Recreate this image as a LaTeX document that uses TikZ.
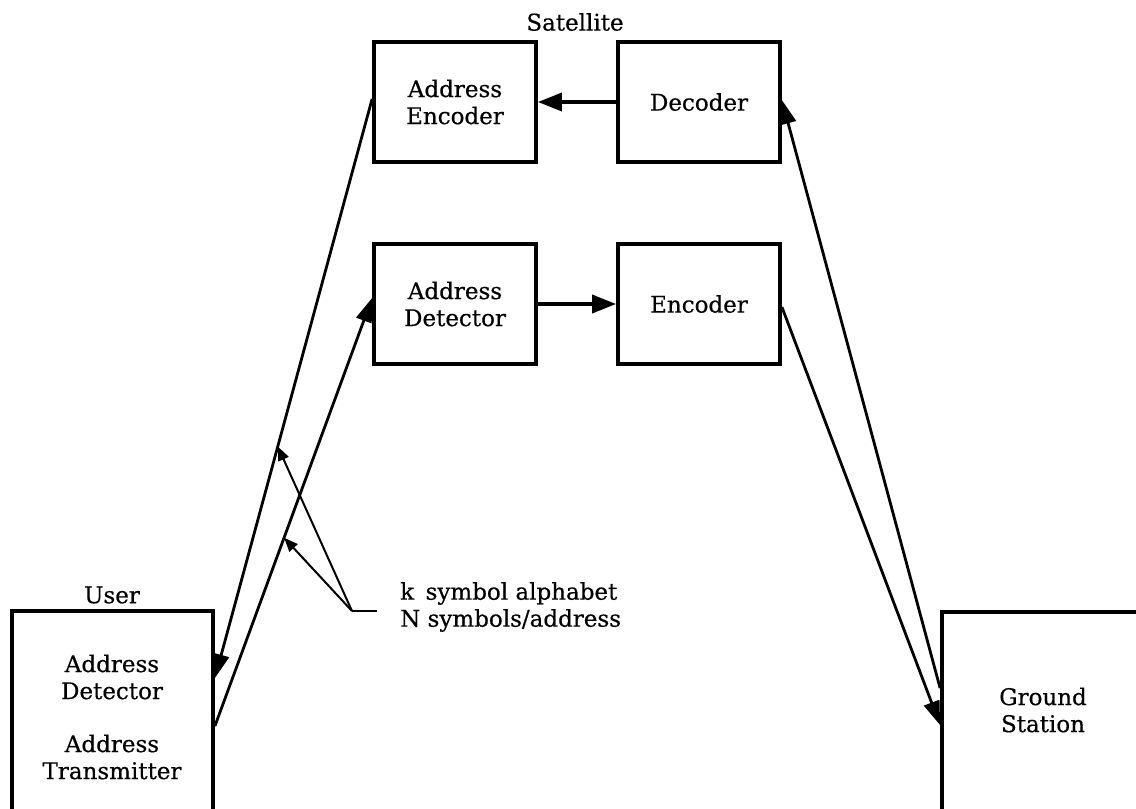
\documentclass[tikz,border=0pt]{standalone}
\usepackage{fontspec}
\setmainfont{DejaVu Serif}[FakeBold=0.5]
\usetikzlibrary{arrows.meta}

\begin{document}
\begin{tikzpicture}[x=1pt,y=-1pt,
  every node/.style={font=\fontsize{23}{27}\selectfont},
  block/.style={draw,line width=3.8pt,rectangle,inner sep=0pt,
    minimum width=162pt,minimum height=120pt,align=center},
  frame/.style={draw,line width=3.8pt,rectangle,inner sep=0pt},
  label/.style={align=center,inner sep=0pt},
  link/.style={line width=2.8pt,-{Triangle[length=24pt,width=16pt]}},
  hlink/.style={line width=3.6pt,-{Triangle[length=24pt,width=18pt]}},
  note/.style={line width=2pt},
  notearrow/.style={line width=2pt,-{Triangle[length=14pt,width=11pt]}}]

\useasboundingbox (0,0) rectangle (1136,809);
\clip (0,0) rectangle (1136,809);

% satellite blocks
\node[label] (sat) at (575,22) {Satellite};
\node[block] (ae)  at (455,102) {Address\\Encoder};
\node[block] (dec) at (699,102) {Decoder};
\node[block] (ad)  at (455,304) {Address\\Detector};
\node[block] (enc) at (699,304) {Encoder};

% user terminal (runs off the lower edge)
\node[label] (usr) at (112,595) {User};
\node[frame,minimum width=201pt,minimum height=289pt] (user) at (112.5,755.5) {};
\node[label] (udet) at (112,677) {Address\\Detector};
\node[label] (utx)  at (112,757) {Address\\Transmitter};

% ground station (runs off the right and lower edges)
\node[frame,minimum width=308pt,minimum height=288pt] (gs) at (1096,756) {};
\node[label] (gst) at (1043,710) {Ground\\Station};

% on-board links
\draw[hlink] (dec.west) -- (ae.east);
\draw[hlink] (ad.east) -- (enc.west);

% user links
\draw[link] ([yshift=3pt]ae.west) -- coordinate[pos=0.6] (m1) ([yshift=-69pt]user.north east);
\draw[link] ([yshift=-117pt]user.north east) -- coordinate[pos=0.44] (m2) ([yshift=6pt]ad.west);

% ground links
\draw[link] ([yshift=-3pt]enc.east) -- ([yshift=-115pt]gs.north west);
\draw[link] ([yshift=-78pt]gs.north west) -- ([yshift=2pt]dec.east);

% signal annotation
\coordinate (apex) at (352,611);
\coordinate (tail) at (377,611);
\draw[note] (tail) -- (apex);
\draw[notearrow] (apex) -- (m1);
\draw[notearrow] (apex) -- (m2);
\node[anchor=west,align=left,inner sep=0pt] (alpha) at (400,607)
  {k\enspace symbol alphabet\\N symbols/address};

\end{tikzpicture}
\end{document}
